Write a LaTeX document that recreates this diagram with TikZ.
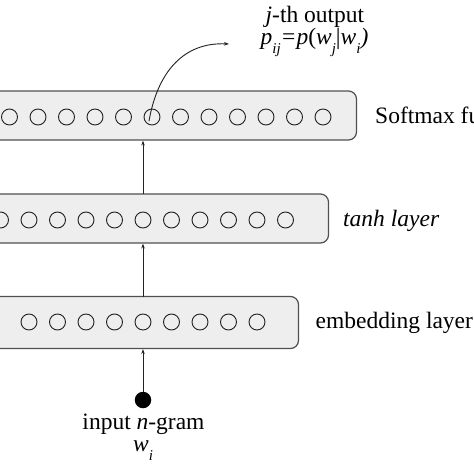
\documentclass[tikz,border=0pt]{standalone}
\usepackage{fontspec}
\setmainfont{Liberation Serif}
\usetikzlibrary{arrows.meta}
\definecolor{boxfill}{HTML}{EEEEEE}
\definecolor{boxline}{HTML}{505050}
\definecolor{inkc}{HTML}{222222}
\newcommand\lowsub[1]{\raisebox{-0.42em}{\fontsize{15}{15}\selectfont\textit{#1}}}
\tikzset{
  layerbox/.style={draw=boxline, fill=boxfill, line width=1.2pt, rounded corners=8pt, inner sep=0pt, rectangle},
  unit/.style={draw=inkc, circle, minimum size=16pt, inner sep=0pt, line width=0.9pt},
  conn/.style={draw=inkc, line width=0.9pt, -{Stealth[length=5pt,width=3.5pt]}},
  lbl/.style={inner sep=0pt, font=\fontsize{23.5}{26}\selectfont},
  inputdot/.style={circle, fill=black, minimum size=16.5pt, inner sep=0pt}
}
\begin{document}
\begin{tikzpicture}[x=1pt,y=-1pt]
\useasboundingbox (0,0) rectangle (474,474);
\clip (0,0) rectangle (474,474);
\fill[white] (0,0) rectangle (474,474);
% layers
\node[layerbox, minimum width=386pt, minimum height=49pt] (soft) at (163.5,115.5) {};
\node[layerbox, minimum width=358pt, minimum height=49pt] (tanh) at (149.5,218.5) {};
\node[layerbox, minimum width=328pt, minimum height=52pt] (emb) at (134.5,322.5) {};
% units
\foreach \k in {0,...,11} \node[unit] (s\k) at ({9.5+28.5*\k},117) {};
\foreach \k in {0,...,10} \node[unit] (t\k) at ({0.5+28.5*\k},220) {};
\foreach \k in {1,...,9} \node[unit] (e\k) at ({0.5+28.5*\k},322) {};
% input
\node[inputdot] (in) at (143,400) {};
\node[lbl, anchor=base] (inlbl) at (143.5,429) {input \textit{n}-gram};
\node[lbl, anchor=base] (wi) at (143,451) {\textit{w}\lowsub{i}};
% vertical connectors
\coordinate (c1) at (143,297);
\coordinate (c2) at (143,194);
\draw[conn] (in.north) -- (in.north |- emb.south);
\draw[conn] (c1) -- (c1 |- tanh.south);
\draw[conn] (c2) -- (c2 |- soft.south);
% output
\node[lbl, anchor=base] (jout) at (315,22) {\textit{j}-th output};
\node[lbl, anchor=base] (pij) at (314.5,44) {\textit{p}\lowsub{ij}\textit{=p}(\textit{w}\lowsub{j}|\textit{w}\lowsub{i}\textit{)}};
\coordinate (otip) at (229,44);
\draw[conn] ([shift={(-3pt,-4pt)}]s5.center) .. controls (158,70) and (185,42) .. (otip);
% labels
\node[lbl, anchor=base west] (softlbl) at (375,123) {Softmax function};
\node[lbl, anchor=base west] (tanhlbl) at (343,226) {\textit{tanh layer}};
\node[lbl, anchor=base west] (emblbl) at (315.5,328) {embedding layer};
\end{tikzpicture}
\end{document}
